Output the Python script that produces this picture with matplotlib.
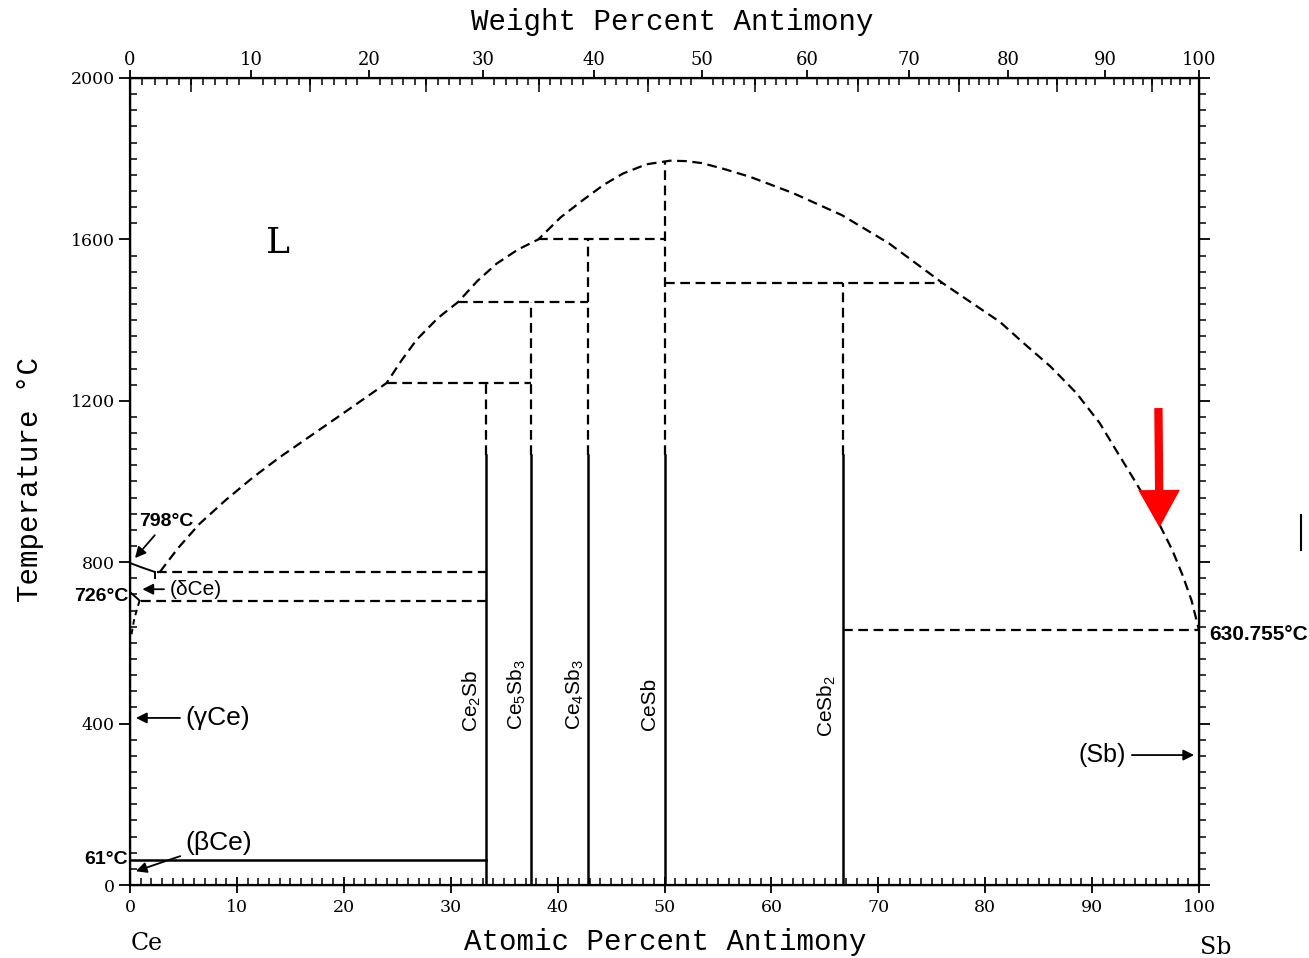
import numpy as np
import matplotlib.pyplot as plt
from matplotlib.lines import Line2D
from matplotlib.ticker import MultipleLocator, FixedLocator, NullFormatter

plt.rcParams['lines.scale_dashes'] = False
DASH = (0, (7, 4))

# liquidus (at.% Sb, deg C)
liq_x = [2.8, 4.5, 6.5, 9, 11.5, 14, 17, 20, 24, 25.4, 26.8, 28.8, 30.7, 32.5, 34.3,
         36.3, 38.2, 40.3, 42.4, 44.3, 46.1, 48.3, 50.5, 52, 53.5, 55.5, 58, 62, 66.6, 71,
         76, 78.5, 81.4, 83.5, 86.1, 88.5, 90.7, 92.3, 93.8, 95.2, 96.4, 97.5, 98.5, 99.3, 100]
liq_T = [776, 835, 895, 955, 1010, 1060, 1115, 1170, 1244, 1300, 1351, 1405, 1445, 1497, 1540,
         1575, 1600, 1655, 1698, 1735, 1763, 1786, 1795, 1794, 1789, 1775, 1755, 1715, 1660, 1590,
         1492, 1447, 1395, 1345, 1285, 1220, 1145, 1075, 1010, 948, 888, 830, 765, 705, 631]

# compounds
comp_names = ['Ce$_\\mathregular{2}$Sb', 'Ce$_\\mathregular{5}$Sb$_\\mathregular{3}$',
              'Ce$_\\mathregular{4}$Sb$_\\mathregular{3}$', 'CeSb', 'CeSb$_\\mathregular{2}$']
comp_x = [33.33, 37.5, 42.86, 50.0, 66.67]
comp_top = [1244, 1445, 1600, 1795, 1492]
comp_solid = [1065, 1065, 1065, 1065, 1065]
comp_lab_x = [32.0, 36.2, 41.6, 48.6, 65.2]
comp_lab_T = [456, 471, 473, 449, 444]

# invariant (dashed) horizontals: start, end, temperature
inv_x0 = [24.0, 30.7, 38.2, 50.0, 66.67, 2.5, 1.0]
inv_x1 = [37.5, 42.86, 50.0, 76.0, 100, 33.33, 33.33]
inv_T = [1244, 1445, 1600, 1492, 631, 775, 705]

# weight percent ticks on top
wt_major = np.arange(0, 101, 10)
wt_minor = np.arange(0, 101, 1)
wt_mid = np.arange(5, 100, 10)
M_CE, M_SB = 140.116, 121.76


def wt_to_at(w):
    w = np.asarray(w, dtype=float)
    a = w / M_SB
    b = (100 - w) / M_CE
    return 100 * a / (a + b)


fig = plt.figure(figsize=(13.09, 9.58), dpi=100)
ax = fig.add_axes([0.0993, 0.0762, 0.8167, 0.8424])
ax.set_xlim(0, 100)
ax.set_ylim(0, 2000)

ax.plot(liq_x, liq_T, color='k', lw=1.6, linestyle=DASH)
for x0, x1, t in zip(inv_x0, inv_x1, inv_T):
    ax.plot([x0, x1], [t, t], color='k', lw=1.6, linestyle=DASH)
for x, top, s in zip(comp_x, comp_top, comp_solid):
    ax.plot([x, x], [0, s], color='k', lw=1.8)
    ax.plot([x, x], [s, top], color='k', lw=1.6, linestyle=DASH)
for name, x, t in zip(comp_names, comp_lab_x, comp_lab_T):
    ax.text(x, t, name, rotation=90, ha='center', va='center', fontsize=15,
            family='Liberation Sans')

# eutectoid at 61
ax.plot([0, 33.33], [62, 62], color='k', lw=1.8)
# delta Ce corner
ax.plot([0, 1.0, 2.3], [798, 788, 776], color='k', lw=1.4)
ax.plot([2.3, 2.3], [776, 760], color='k', lw=1.4)
ax.plot([0, 0.9], [726, 705], color='k', lw=1.4)
ax.plot([0.9, 0.4, 0.1], [705, 660, 615], color='k', lw=1.4, linestyle=(0, (4, 3)))

lab = dict(family='Liberation Sans', fontsize=14)
arr = dict(arrowstyle='-|>', color='k', lw=1.3, mutation_scale=16)
ax.text(13.8, 1591, 'L', fontsize=26, family='DejaVu Serif', ha='center', va='center')
ax.annotate('798°C', xy=(0.3, 805), xytext=(3.4, 900), ha='center', va='center',
            fontweight='bold', arrowprops=arr, **lab)
ax.text(-0.1, 716, '726°C', ha='right', va='center', fontweight='bold', **lab)
ax.text(-0.2, 62, '61°C', ha='right', va='center', fontweight='bold', **lab)
ax.annotate('(δCe)', xy=(0.9, 733), xytext=(3.7, 733), ha='left', va='center',
            family='Liberation Sans', fontsize=15, arrowprops=arr)
ax.annotate('(γCe)', xy=(0.3, 414), xytext=(5.2, 414), ha='left', va='center',
            fontsize=19, family='Liberation Sans', arrowprops=arr)
ax.annotate('(βCe)', xy=(0.3, 32), xytext=(5.2, 104), ha='left', va='center',
            fontsize=19, family='Liberation Sans', arrowprops=arr)
ax.annotate('(Sb)', xy=(99.8, 322), xytext=(93.2, 322), ha='right', va='center',
            fontsize=18, family='Liberation Sans', arrowprops=arr)
ax.text(101.0, 622, '630.755°C', ha='left', va='center', fontweight='bold',
        clip_on=False, family='Liberation Sans', fontsize=15)
ax.annotate('', xy=(96.3, 886), xytext=(96.2, 1182),
            arrowprops=dict(color='red', width=6, headwidth=30, headlength=27, lw=0))

# bottom / left ticks
ax.xaxis.set_major_locator(MultipleLocator(10))
ax.xaxis.set_minor_locator(MultipleLocator(1))
ax.yaxis.set_major_locator(MultipleLocator(400))
ax.yaxis.set_minor_locator(MultipleLocator(40))
ax.tick_params(axis='x', which='major', direction='inout', length=12, width=1.3,
               labelsize=12.5, pad=4)
ax.tick_params(axis='x', which='minor', direction='in', length=5, width=1.1)
ax.tick_params(axis='y', which='major', direction='out', length=8, width=1.3,
               labelsize=12.5, pad=3)
ax.tick_params(axis='y', which='minor', direction='in', length=5, width=1.1)
for t in ax.get_xticklabels() + ax.get_yticklabels():
    t.set_family('DejaVu Serif')
for s in ax.spines.values():
    s.set_linewidth(1.6)

# right spine ticks point outward
axr = ax.twinx()
axr.set_ylim(0, 2000)
axr.yaxis.set_major_locator(MultipleLocator(400))
axr.yaxis.set_minor_locator(MultipleLocator(40))
axr.yaxis.set_major_formatter(NullFormatter())
axr.tick_params(which='major', direction='out', length=8, width=1.3)
axr.tick_params(which='minor', direction='out', length=5, width=1.1)

# top: weight percent
axt = ax.twiny()
axt.set_xlim(0, 100)
axt.xaxis.set_major_locator(FixedLocator(wt_to_at(wt_major)))
axt.set_xticklabels([str(w) for w in wt_major], family='DejaVu Serif', fontsize=13)
axt.xaxis.set_minor_locator(FixedLocator(wt_to_at(wt_minor)))
axt.tick_params(which='major', direction='out', length=6, width=1.3, pad=0.5)
axt.tick_params(which='minor', direction='in', length=5, width=1.1)
axm = ax.twiny()
axm.set_xlim(0, 100)
axm.xaxis.set_major_locator(FixedLocator(wt_to_at(wt_mid)))
axm.xaxis.set_major_formatter(NullFormatter())
axm.tick_params(which='major', direction='in', length=10, width=1.1)

mono = dict(family='Liberation Mono', fontsize=21)
fig.text(672 / 1309, 1 - 22 / 958, 'Weight Percent Antimony', ha='center', va='center', **mono)
fig.text(665 / 1309, 1 - 942 / 958, 'Atomic Percent Antimony', ha='center', va='center', **mono)
fig.text(30 / 1309, 1 - 480 / 958, 'Temperature °C', ha='center', va='center',
         rotation=90, **mono)
fig.text(147 / 1309, 1 - 943 / 958, 'Ce', ha='center', va='center',
         family='DejaVu Serif', fontsize=17)
fig.text(1216 / 1309, 1 - 948 / 958, 'Sb', ha='center', va='center',
         family='DejaVu Serif', fontsize=17)
# stray scan mark at the right edge
fig.add_artist(Line2D([1301 / 1309, 1301 / 1309], [1 - 515 / 958, 1 - 550 / 958],
                      color='k', lw=1.5))

fig.savefig('out.png', dpi=100)
